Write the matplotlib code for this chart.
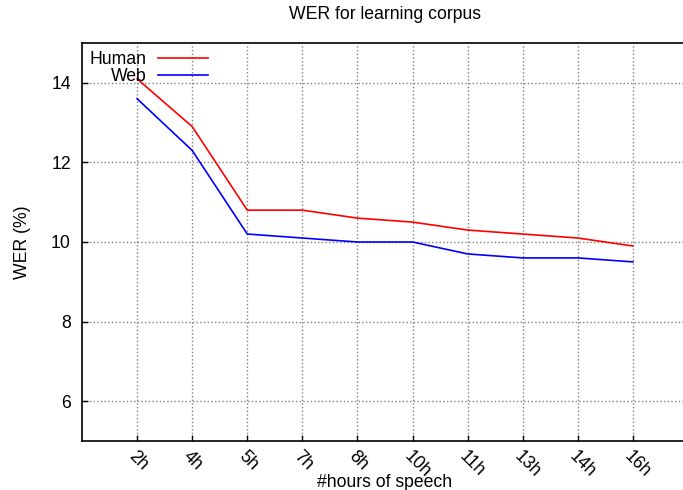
import matplotlib
matplotlib.use("Agg")
import matplotlib.pyplot as plt

plt.rcParams['font.family'] = ['Liberation Sans', 'DejaVu Sans']

hours = ["2h", "4h", "5h", "7h", "8h", "10h", "11h", "13h", "14h", "16h"]
human = [14.1, 12.9, 10.8, 10.8, 10.6, 10.5, 10.3, 10.2, 10.1, 9.9]
web = [13.6, 12.3, 10.2, 10.1, 10.0, 10.0, 9.7, 9.6, 9.6, 9.5]

x = list(range(1, len(hours) + 1))
fs = 12.7

fig = plt.figure(figsize=(6.83, 4.9), dpi=100)
ax = fig.add_axes([82 / 683, 1 - 441 / 490, 606 / 683, 398 / 490])

ax.plot(x, human, color="red", lw=1.2, label="Human")
ax.plot(x, web, color="blue", lw=1.2, label="Web")

ax.set_xlim(0, 11)
ax.set_ylim(5, 15)
ax.set_xticks(x)
ax.set_xticklabels(hours, rotation=-45, ha="left", va="top", rotation_mode="anchor")
ax.set_yticks([6, 8, 10, 12, 14])
ax.tick_params(direction="in", length=4, labelsize=fs, width=1)
ax.tick_params(axis="x", pad=5)
ax.tick_params(axis="y", pad=8)
ax.grid(True, color="gray", linestyle=":", linewidth=1)
ax.spines["right"].set_visible(False)
for s in ["left", "bottom", "top"]:
    ax.spines[s].set_linewidth(1.2)

ax.set_title("WER for learning corpus", fontsize=fs, pad=17)
ax.set_xlabel("#hours of speech", fontsize=fs)
ax.set_ylabel("WER (%)", fontsize=fs)
ax.xaxis.set_label_coords(0.5, -0.082)
ax.yaxis.set_label_coords(-0.084, 0.5)

leg = ax.legend(loc="upper left", frameon=False, markerfirst=False, fontsize=fs,
                handlelength=2.8, handletextpad=0.65, labelspacing=0.0,
                borderpad=0.35, borderaxespad=0.1, bbox_to_anchor=(0.0, 1.0))

fig.savefig("out.png", dpi=100)
